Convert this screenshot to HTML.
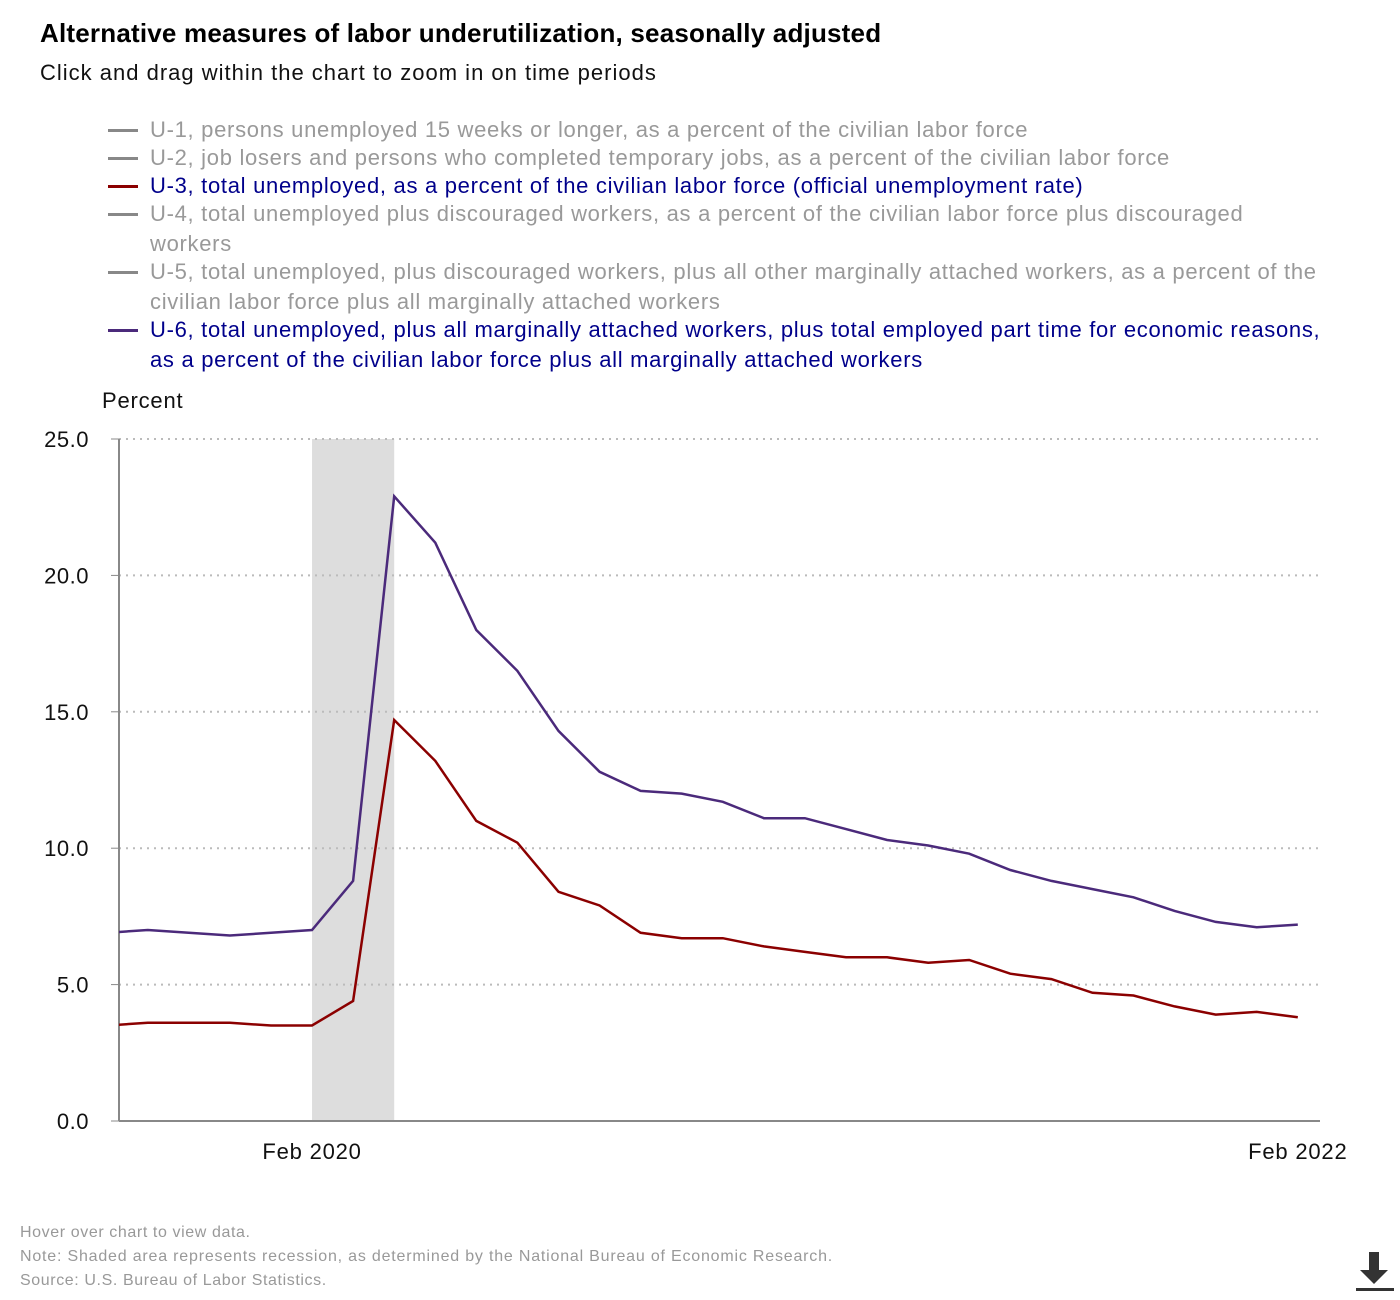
<!DOCTYPE html>
<html><head><meta charset="utf-8"><style>
body{margin:0;background:#fff;font-family:"Liberation Sans",sans-serif;width:1400px;height:1300px;overflow:hidden;position:relative}
.t{position:absolute;white-space:nowrap}
.leg{position:absolute;left:108px;font-size:22px;letter-spacing:0.7px;line-height:30px;color:#999}
.leg .row{position:relative;padding-left:42px;white-space:nowrap;margin-bottom:-2px}
.leg .sw{position:absolute;left:0;top:14px;width:30px;height:3px;background:#888}
</style></head><body>
<div class="t" style="left:40px;top:18px;font-size:26px;letter-spacing:0.2px;font-weight:bold;color:#000">Alternative measures of labor underutilization, seasonally adjusted</div>
<div class="t" style="left:40px;top:60px;font-size:22px;letter-spacing:1px;color:#111">Click and drag within the chart to zoom in on time periods</div>
<div class="leg" style="top:115px;width:1280px">
<div class="row"><span class="sw"></span>U-1, persons unemployed 15 weeks or longer, as a percent of the civilian labor force</div>
<div class="row"><span class="sw"></span>U-2, job losers and persons who completed temporary jobs, as a percent of the civilian labor force</div>
<div class="row" style="color:#00008b"><span class="sw" style="background:#8b0000"></span>U-3, total unemployed, as a percent of the civilian labor force (official unemployment rate)</div>
<div class="row"><span class="sw"></span>U-4, total unemployed plus discouraged workers, as a percent of the civilian labor force plus discouraged<br>workers</div>
<div class="row"><span class="sw"></span>U-5, total unemployed, plus discouraged workers, plus all other marginally attached workers, as a percent of the<br>civilian labor force plus all marginally attached workers</div>
<div class="row" style="color:#00008b"><span class="sw" style="background:#4b2a7b"></span>U-6, total unemployed, plus all marginally attached workers, plus total employed part time for economic reasons,<br>as a percent of the civilian labor force plus all marginally attached workers</div>
</div>
<div class="t" style="left:102px;top:388px;font-size:22px;letter-spacing:0.8px;color:#111">Percent</div>
<svg id="chart" width="1400" height="1300" style="position:absolute;left:0;top:0"></svg>
<div class="t" style="left:20px;top:1224px;font-size:16px;letter-spacing:0.6px;color:#999">Hover over chart to view data.</div>
<div class="t" style="left:20px;top:1248px;font-size:16px;letter-spacing:0.8px;color:#999">Note: Shaded area represents recession, as determined by the National Bureau of Economic Research.</div>
<div class="t" style="left:20px;top:1272px;font-size:16px;letter-spacing:0.6px;color:#999">Source: U.S. Bureau of Labor Statistics.</div>
<svg width="44" height="44" style="position:absolute;left:1354px;top:1250px"><rect x="15" y="2" width="10" height="20" fill="#333"/><polygon points="6,20 34,20 20,34" fill="#333"/><rect x="2" y="38" width="38" height="3" fill="#333"/></svg>
<script>
const yTicks=[0,5,10,15,20,25];
const tickLabels=["0.0","5.0","10.0","15.0","20.0","25.0"];
const xLabels=["Feb 2020","Feb 2022"];
const xLabelMonths=[0,24];
const u6=[6.9,7.0,6.9,6.8,6.9,7.0,8.8,22.9,21.2,18.0,16.5,14.3,12.8,12.1,12.0,11.7,11.1,11.1,10.7,10.3,10.1,9.8,9.2,8.8,8.5,8.2,7.7,7.3,7.1,7.2];
const u3=[3.5,3.6,3.6,3.6,3.5,3.5,4.4,14.7,13.2,11.0,10.2,8.4,7.9,6.9,6.7,6.7,6.4,6.2,6.0,6.0,5.8,5.9,5.4,5.2,4.7,4.6,4.2,3.9,4.0,3.8];
const firstMonth=-5;
const recession=[0,2];
const NS="http://www.w3.org/2000/svg",svg=document.getElementById('chart');
const X0=119,X1=1320,Y0=1121,Y1=439;
const dMin=-4.7,dMax=24.54;
const x=m=>X0+(m-dMin)/(dMax-dMin)*(X1-X0);
const y=v=>Y0-v/25*(Y0-Y1);
function mk(t,a){const e=document.createElementNS(NS,t);for(const k in a)e.setAttribute(k,a[k]);svg.appendChild(e);return e;}
const defs=mk('defs',{});const cp=document.createElementNS(NS,'clipPath');cp.setAttribute('id','c');defs.appendChild(cp);
const cr=document.createElementNS(NS,'rect');cr.setAttribute('x',X0);cr.setAttribute('y',0);cr.setAttribute('width',X1-X0);cr.setAttribute('height',1300);cp.appendChild(cr);
let r=mk('rect',{x:x(recession[0]),y:Y1,width:x(recession[1])-x(recession[0]),height:Y0-Y1,fill:'#ddd'});


yTicks.forEach((v,i)=>{
 if(v>0){let g=mk('line',{x1:X0,x2:X1,y1:y(v),y2:y(v),stroke:'#bbb','stroke-width':2,'stroke-dasharray':'2,5'});
 
 }
 let t=mk('text',{x:89,y:y(v)+8,'text-anchor':'end','font-size':22,'letter-spacing':0.5,fill:'#111','font-family':'Liberation Sans'});t.textContent=tickLabels[i];
 
 
 let tk=mk('line',{x1:X0-8,x2:X0,y1:y(v),y2:y(v),stroke:'#888','stroke-width':1});
 
 
});
let ax=mk('line',{x1:X0,x2:X0,y1:Y1,y2:Y0,stroke:'#888','stroke-width':2});


let bx=mk('line',{x1:X0,x2:X1,y1:Y0,y2:Y0,stroke:'#888','stroke-width':2});


xLabels.forEach((l,i)=>{let t=mk('text',{x:x(xLabelMonths[i]),y:1159,'text-anchor':'middle','font-size':22,'letter-spacing':0.8,fill:'#111','font-family':'Liberation Sans'});t.textContent=l;
 
 });
function line(d,c,n){const p=d.map((v,i)=>x(firstMonth+i).toFixed(1)+','+y(v).toFixed(1)).join(' ');
 let e=mk('polyline',{points:p,fill:'none',stroke:c,'stroke-width':2.5,'clip-path':'url(#c)'});
 
 }
line(u6,'#4b2a7b','u6-line');
line(u3,'#8b0000','u3-line');
</script>
</body></html>
